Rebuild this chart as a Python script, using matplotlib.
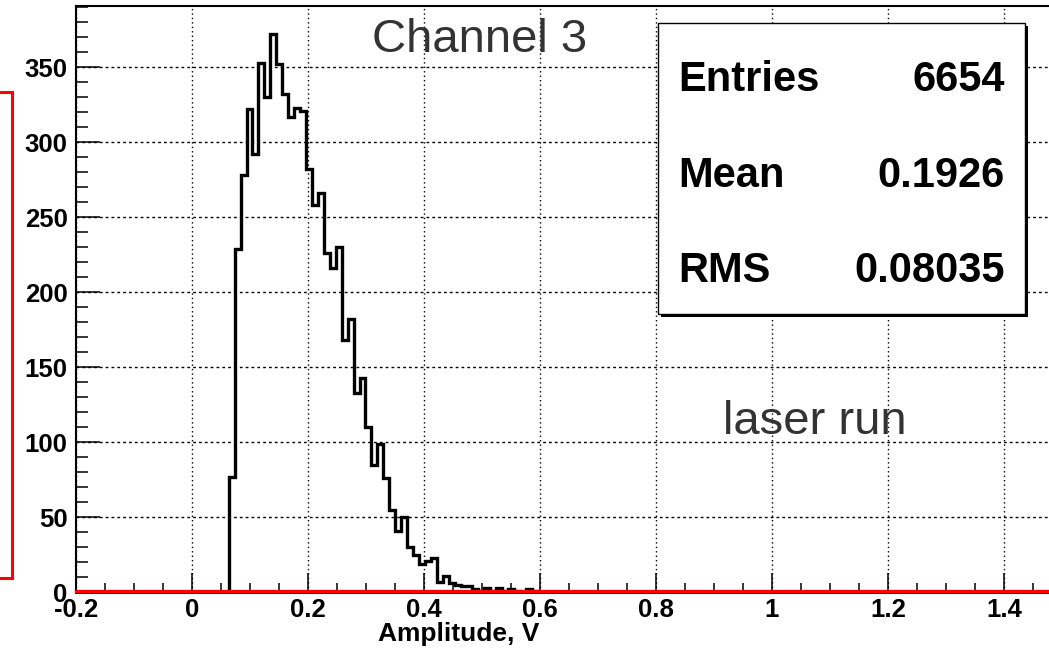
import matplotlib
matplotlib.use('Agg')
import numpy as np
import matplotlib.pyplot as plt
import matplotlib.patches as patches
import matplotlib.transforms as mtransforms
from matplotlib.ticker import MultipleLocator, FuncFormatter

plt.rcParams['font.family'] = ['Liberation Sans', 'DejaVu Sans']

# amplitude histogram, channel 3 (laser run)
first_edge = 0.0633
bin_width = 0.01025
counts = [77, 229, 278, 322, 292, 353, 330, 372, 352, 332,
          317, 323, 321, 282, 258, 266, 226, 216, 230, 168,
          182, 133, 143, 110, 85, 99, 76, 55, 41, 50,
          30, 25, 19, 21, 23, 7, 11, 6, 5, 4,
          4, 2, 1, 3, 1, 3, 1, 2, 1, 0,
          2, 1, 0]

stat_names = ['Entries', 'Mean', 'RMS']
stat_values = ['6654', '0.1926', '0.08035']

W, H = 1049, 651
def fx(x):
    return x / W
def fy(y):
    return 1 - y / H

edges = first_edge + bin_width * np.arange(len(counts) + 1)

fig = plt.figure(figsize=(W / 100, H / 100), dpi=100)
fig.patch.set_facecolor('white')

# piece of the neighbouring pad (red frame with shadow)
fig.patches.append(patches.Rectangle((fx(-3 + 2), fy(578 + 2)), fx(15), (578 - 92) / H,
                                     transform=fig.transFigure, facecolor='black',
                                     edgecolor='none', zorder=0))
fig.patches.append(patches.Rectangle((fx(-3), fy(578)), fx(15), (578 - 92) / H,
                                     transform=fig.transFigure, facecolor='white',
                                     edgecolor='red', lw=2.2, zorder=1))

ax = fig.add_axes([fx(76), 59 / H, (1062 - 76) / W, (592 - 6) / H])
ax.set_xlim(-0.2, 1.5)
ax.set_ylim(0, 390.7)

ax.grid(True, axis='y', which='major', color='black', lw=1.0, linestyle=(0, (2, 2.2)))
ax.grid(True, axis='x', which='major', color='black', lw=1.0, linestyle=(0, (1, 2.2)))
ax.set_axisbelow(True)

ax.stairs(counts, edges, baseline=0, color='black', lw=2.4, zorder=3)

# zero line in red, sitting just on top of the frame
red_tr = mtransforms.offset_copy(ax.transData, fig=fig, x=0, y=1.5, units='dots')
ax.plot([-0.2, 1.5], [0, 0], color='red', lw=2.4, transform=red_tr, zorder=4, clip_on=False)

for side in ['left', 'top', 'bottom', 'right']:
    ax.spines[side].set_color('black')
    ax.spines[side].set_linewidth(1.5)
ax.spines['bottom'].set_linewidth(2)

ax.xaxis.set_major_locator(MultipleLocator(0.2))
ax.xaxis.set_minor_locator(MultipleLocator(0.05))
ax.yaxis.set_major_locator(MultipleLocator(50))
ax.yaxis.set_minor_locator(MultipleLocator(10))
ax.xaxis.set_major_formatter(FuncFormatter(lambda v, p: '%g' % (round(v, 3) + 0.0)))
ax.yaxis.set_major_formatter(FuncFormatter(lambda v, p: '%d' % round(v)))

ax.tick_params(axis='x', which='major', direction='in', length=14, width=1.1, pad=4,
               labelsize=18.5)
ax.tick_params(axis='x', which='minor', direction='in', length=6.5, width=1.1)
ax.tick_params(axis='y', which='major', direction='in', length=17, width=1.1, pad=6,
               labelsize=18.5)
ax.tick_params(axis='y', which='minor', direction='in', length=8.5, width=1.1)
for lab in ax.get_xticklabels() + ax.get_yticklabels():
    lab.set_fontweight('bold')

ax.set_xlabel('Amplitude, V', fontsize=19, fontweight='bold')
ax.xaxis.set_label_coords(0.388, -0.052)
ax.xaxis.label.set_va('top')

# statistics box
fig.patches.append(patches.Rectangle((fx(661), fy(317)), fx(367), (314 - 23) / H,
                                     transform=fig.transFigure, facecolor='black',
                                     edgecolor='none', zorder=5))
fig.patches.append(patches.Rectangle((fx(658), fy(314)), fx(367), (314 - 23) / H,
                                     transform=fig.transFigure, facecolor='white',
                                     edgecolor='black', lw=1, zorder=6))
row_baselines = [91, 187, 282]
for name, val, yb in zip(stat_names, stat_values, row_baselines):
    fig.text(fx(678), fy(yb), name, fontsize=30, fontweight='bold', ha='left',
             va='baseline', zorder=7)
    fig.text(fx(1005), fy(yb), val, fontsize=30, fontweight='bold', ha='right',
             va='baseline', zorder=7)

fig.text(fx(480), fy(52), 'Channel 3', fontsize=34, color='#333333', ha='center',
         va='baseline')
fig.text(fx(815), fy(434), 'laser run', fontsize=34, color='#333333', ha='center',
         va='baseline')

fig.savefig('out.png', dpi=100)
